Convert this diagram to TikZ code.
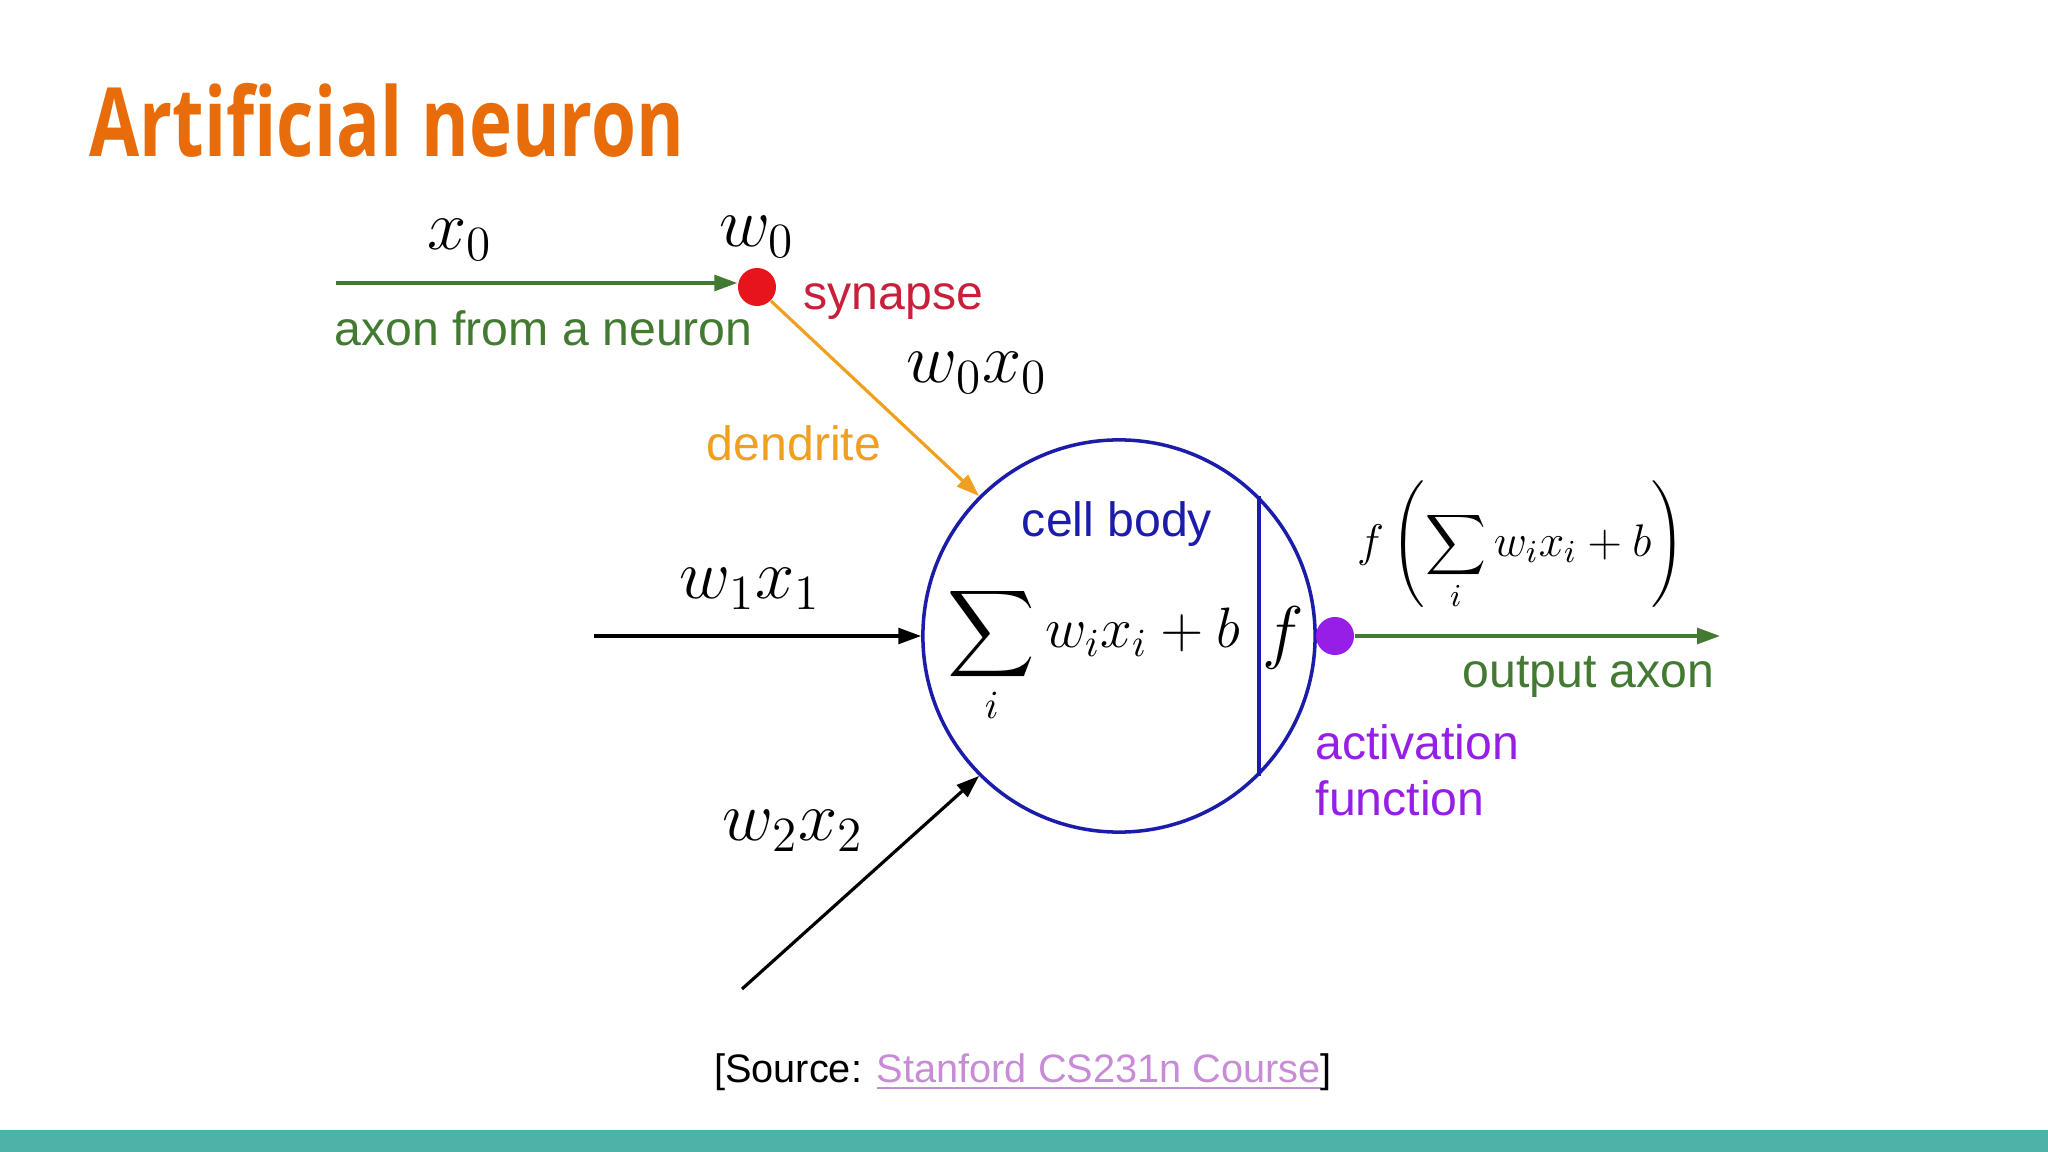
\RequirePackage{fix-cm}
\documentclass[tikz,border=0pt]{standalone}
\usepackage{amsmath}
\usepackage{fontspec}
\setmainfont{Liberation Sans}
\newfontfamily\titlefont[FakeStretch=0.76]{Open Sans}
\usepackage{xcolor}
\usepackage{tikz}
\usetikzlibrary{arrows.meta,positioning}

\definecolor{titleorange}{RGB}{232,108,10}
\definecolor{axgreen}{RGB}{66,122,50}
\definecolor{synred}{RGB}{232,20,28}
\definecolor{syntext}{RGB}{200,32,58}
\definecolor{dendorange}{RGB}{240,160,32}
\definecolor{cellblue}{RGB}{28,28,170}
\definecolor{actpurple}{RGB}{150,30,230}
\definecolor{linkpink}{RGB}{200,140,214}
\definecolor{barteal}{RGB}{77,178,168}

\begin{document}
\begin{tikzpicture}[
    x=0.01cm, y=-0.01cm,
    lbl/.style={inner sep=0pt, font=\fontsize{13.7}{16}\selectfont},
    mth/.style={inner sep=0pt, font=\fontsize{20}{24}\selectfont},
    dot/.style={circle, inner sep=0pt, minimum size=0.38cm},
    arr/.style={-{Triangle[length=6.5pt,width=4.5pt]}, line width=0.9pt}
]
    \useasboundingbox (0,0) rectangle (2048,1152);
    \fill[barteal] (0,1130) rectangle (2048,1152);

    \node [anchor=base west, inner sep=0pt, text=titleorange, font=\titlefont\bfseries\fontsize{27.2}{32}\selectfont] (title) at (89,157) {Artificial neuron};

    % cell body
    \node [circle, draw=cellblue, line width=1pt, minimum size=3.92cm, inner sep=0pt] (body) at (1119,636) {};
    \draw [cellblue, line width=1pt] (body.45) -- (body.-45);
    \node [lbl, text=cellblue] (cell) at (1117,524) {cell body};
    \node [inner sep=0pt, font=\fontsize{16.2}{20}\selectfont] (sum) at (1094,655) {$\displaystyle\sum_i w_i x_i + b$};
    \node [mth] (f) at (1283,638) {$f$};

    % synapse
    \node [dot, fill=synred] (syn) at (757,287) {};
    \coordinate (in0) at (336,283);
    \draw [arr, axgreen] (in0) -- (in0 -| syn.west);
    \node [mth] (x0) at (460,240) {$x_0$};
    \node [mth] (w0) at (757,237) {$w_0$};
    \node [lbl, text=syntext, anchor=west] (synlbl) at (803,302) {synapse};
    \node [lbl, text=axgreen, anchor=west] (axon) at (334,328) {axon from a neuron};

    % dendrite
    \draw [arr, dendorange] (syn.-45) -- (body.135);
    \node [mth] (w0x0) at (977,373) {$w_0x_0$};
    \node [lbl, text=dendorange] (dend) at (794,443) {dendrite};

    % other inputs
    \coordinate (in1) at (594,636);
    \draw [arr] (in1) -- (body.west);
    \node [mth] (w1x1) at (750,589) {$w_1x_1$};
    \coordinate (in2) at (742,989);
    \draw [arr] (in2) -- (body.225);
    \node [mth] (w2x2) at (793,831) {$w_2x_2$};

    % output
    \node [dot, fill=actpurple] (act) at (1335,636) {};
    \coordinate (out) at (1720,636);
    \draw [arr, axgreen] (act) -- (out);
    \node [inner sep=0pt, font=\fontsize{13}{16}\selectfont] (fsum) at (1521,546) {$f\left(\displaystyle\sum_i w_i x_i + b\right)$};
    \node [lbl, text=axgreen, anchor=east] (outlbl) at (1715,677) {output axon};
    \node [lbl, text=actpurple, anchor=west, align=left] (actlbl) at (1315,770) {activation\\function};

    \node [inner sep=0pt, font=\fontsize{11.3}{14}\selectfont] (src) at (1023,1072) {[Source: \textcolor{linkpink}{\underline{Stanford CS231n Course}}]};
\end{tikzpicture}
\end{document}
